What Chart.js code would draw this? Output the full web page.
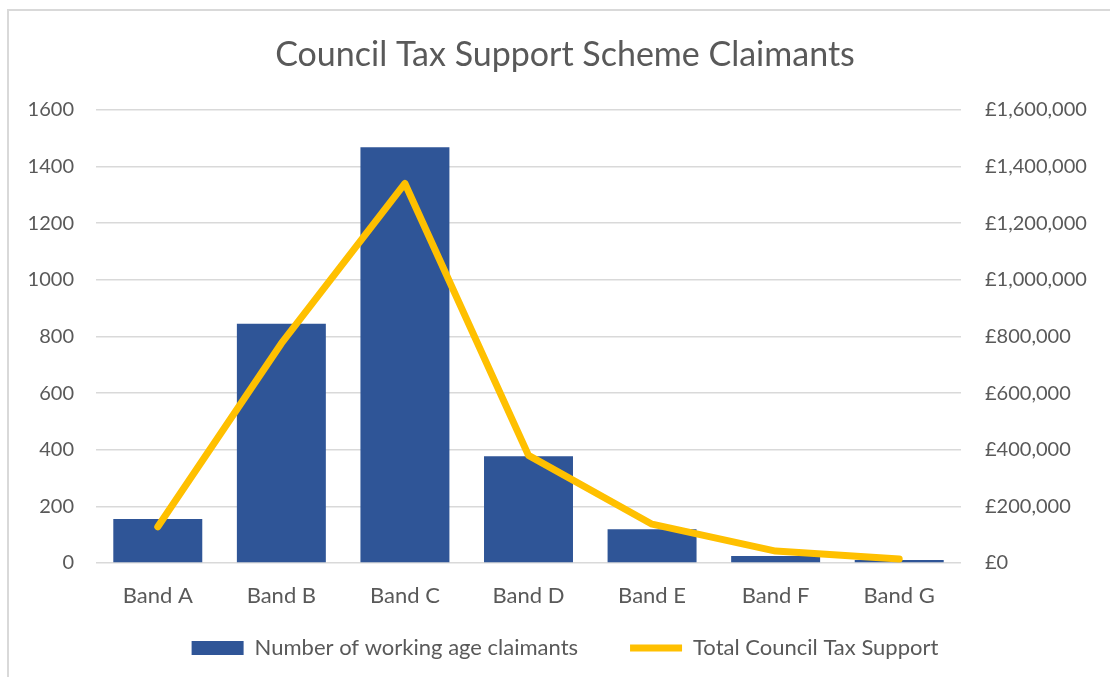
<!DOCTYPE html>
<html>
<head>
<meta charset="utf-8">
<script src="https://cdn.jsdelivr.net/npm/chart.js@4"></script>
<style>
  html, body { margin: 0; padding: 0; background: #ffffff; }
  #wrap { position: relative; width: 1110px; height: 677px; overflow: hidden; }
  #frame {
    position: absolute; left: 7px; top: 9px; width: 1200px; height: 800px;
    border: 2px solid #d9d9d9; box-sizing: border-box; pointer-events: none;
  }
  canvas { position: absolute; left: 0; top: 0; }
</style>
</head>
<body>
<div id="wrap">
  <div id="frame"></div>
  <canvas id="chart" width="1110" height="677"></canvas>
</div>
<script>
  const bands = ["Band A", "Band B", "Band C", "Band D", "Band E", "Band F", "Band G"];
  const claimants = [155, 845, 1468, 377, 119, 25, 11];
  const taxSupport = [128000, 775000, 1340000, 380000, 137000, 42000, 14000];
  const claimantTicks = [0, 200, 400, 600, 800, 1000, 1200, 1400, 1600];
  const supportTicks = [0, 200000, 400000, 600000, 800000, 1000000, 1200000, 1400000, 1600000];

  const TEXT = "#595959";
  const FONT = "Lato, 'Open Sans', sans-serif";

  function pounds(value) {
    return "£" + Number(value).toLocaleString("en-GB");
  }

  new Chart(document.getElementById("chart"), {
    type: "bar",
    data: {
      labels: bands,
      datasets: [
        {
          label: "Number of working age claimants",
          data: claimants,
          backgroundColor: "#2f5597",
          borderWidth: 0,
          pointStyle: "rect",
          categoryPercentage: 0.72,
          barPercentage: 1,
          yAxisID: "y",
          order: 2
        },
        {
          type: "line",
          label: "Total Council Tax Support",
          data: taxSupport,
          borderColor: "#ffc000",
          backgroundColor: "#ffc000",
          borderWidth: 7,
          borderCapStyle: "round",
          borderJoinStyle: "round",
          pointRadius: 0,
          pointStyle: "line",
          tension: 0,
          yAxisID: "y1",
          order: 1
        }
      ]
    },
    options: {
      responsive: false,
      animation: false,
      layout: { padding: { left: 20, right: 0, top: 0, bottom: 8 } },
      scales: {
        x: {
          // keep the band labels where they are but pull the legend up under them
          afterFit: (scale) => {
            scale.height = 22;
            scale._computeLabelArea = () => undefined;
          },
          grid: { display: false, drawTicks: false },
          border: { display: false },
          ticks: { color: TEXT, font: { family: FONT, size: 22 }, padding: 20 }
        },
        y: {
          position: "left",
          min: 0,
          max: 1600,
          afterBuildTicks: (scale) => { scale.ticks = claimantTicks.map((v) => ({ value: v })); },
          afterFit: (scale) => { scale.width = 76; },
          grid: { color: "#d9d9d9", lineWidth: 1.5, drawTicks: false },
          border: { display: false },
          ticks: { color: TEXT, font: { family: FONT, size: 20 }, padding: 22, callback: (v) => String(v) }
        },
        y1: {
          position: "right",
          min: 0,
          max: 1600000,
          afterBuildTicks: (scale) => { scale.ticks = supportTicks.map((v) => ({ value: v })); },
          afterFit: (scale) => { scale.width = 149; },
          grid: { display: false, drawTicks: false },
          border: { display: false },
          ticks: { color: TEXT, font: { family: FONT, size: 20 }, padding: 24, callback: (v) => pounds(v) }
        }
      },
      plugins: {
        title: {
          display: true,
          text: "Council Tax Support Scheme Claimants",
          color: TEXT,
          font: { family: FONT, size: 34, weight: "normal" },
          padding: { top: 35, bottom: 34 }
        },
        legend: {
          position: "bottom",
          labels: {
            color: TEXT,
            font: { family: FONT, size: 22 },
            usePointStyle: true,
            pointStyleWidth: 52,
            boxHeight: 14,
            padding: 52,
            sort: (a, b) => a.datasetIndex - b.datasetIndex
          }
        },
        tooltip: { enabled: false }
      }
    }
  });
</script>
</body>
</html>
